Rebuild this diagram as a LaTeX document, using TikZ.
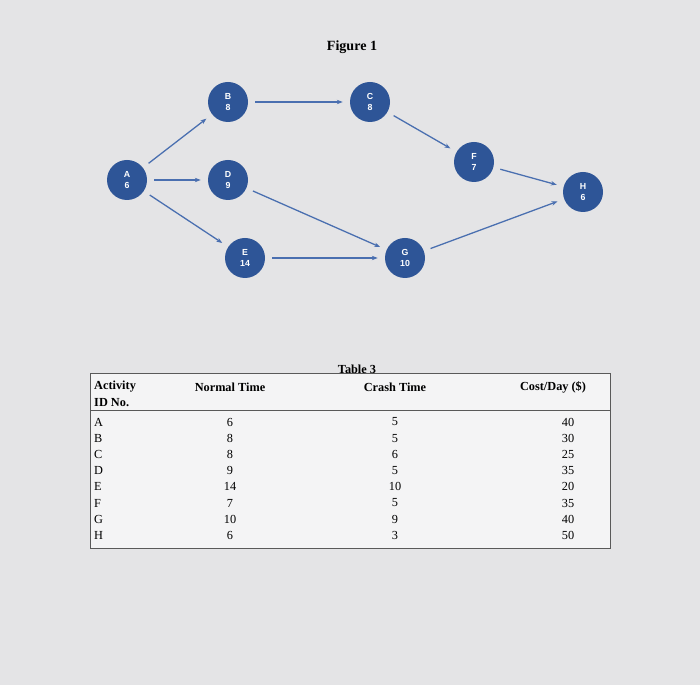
\documentclass[tikz,border=0pt]{standalone}
\usepackage{fontspec}
\setmainfont{Liberation Serif}
\newfontfamily\nodefont{Liberation Sans}
\usetikzlibrary{arrows.meta}
\definecolor{nb}{HTML}{2E5597}
\definecolor{ar}{HTML}{4A6FB0}
\definecolor{bg}{HTML}{E4E4E6}
\begin{document}
\begin{tikzpicture}[x=0.03cm,y=-0.03cm,
  act/.style={circle,fill=nb,text=white,minimum size=1.2cm,inner sep=0pt,align=center,font=\nodefont\bfseries\fontsize{7.5}{9}\selectfont},
  con/.style={ar,line width=1.1pt,-{Stealth[length=5pt]},shorten >=6pt,shorten <=6pt},
  cell/.style={font=\fontsize{10.5}{11}\selectfont,inner sep=0pt},
  hd/.style={font=\bfseries\fontsize{10.5}{11}\selectfont,inner sep=0pt}]
\fill[bg] (0,0) rectangle (700,685);
\useasboundingbox (0,0) rectangle (700,685);
\node[hd,font=\bfseries\fontsize{12}{13}\selectfont] (fig) at (352,47) {Figure 1};
\node[act] (A) at (127,180) {A\\6};
\node[act] (B) at (228,102) {B\\8};
\node[act] (C) at (370,102) {C\\8};
\node[act] (D) at (228,180) {D\\9};
\node[act] (E) at (245,258) {E\\14};
\node[act] (F) at (474,162) {F\\7};
\node[act] (G) at (405,258) {G\\10};
\node[act] (H) at (583,192) {H\\6};
\draw[con] (A) -- (B);
\draw[con] (B) -- (C);
\draw[con] (C) -- (F);
\draw[con] (F) -- (H);
\draw[con] (A) -- (D);
\draw[con] (A) -- (E);
\draw[con] (D) -- (G);
\draw[con] (E) -- (G);
\draw[con] (G) -- (H);
% table
\fill[white!60!bg] (90,373) rectangle (610,548);
\draw[gray!70!black,line width=0.6pt] (90,373) rectangle (610,548);
\draw[gray!70!black,line width=0.6pt] (90,410) -- (610,410);
\node[hd] (t3) at (357,369) {Table 3};
\node[hd,anchor=west] (h1) at (94,387) {Activity};
\node[hd,anchor=west] (h1b) at (94,403) {ID No.};
\node[hd] (h2) at (230,387) {Normal Time};
\node[hd] (h3) at (395,387) {Crash Time};
\node[hd] (h4) at (553,387) {Cost/Day (\$)};
\foreach \l/\n/\c/\d [count=\i from 0] in {A/6/5/40,B/8/5/30,C/8/6/25,D/9/5/35,E/14/10/20,F/7/5/35,G/10/9/40,H/6/3/50}{
  \node[cell,anchor=west] (r\i a) at (94,{422+16.2*\i}) {\l};
  \node[cell] (r\i b) at (230,{422+16.2*\i}) {\n};
  \node[cell] (r\i c) at (395,{422+16.2*\i}) {\c};
  \node[cell] (r\i d) at (568,{422+16.2*\i}) {\d};
}
\end{tikzpicture}
\end{document}
